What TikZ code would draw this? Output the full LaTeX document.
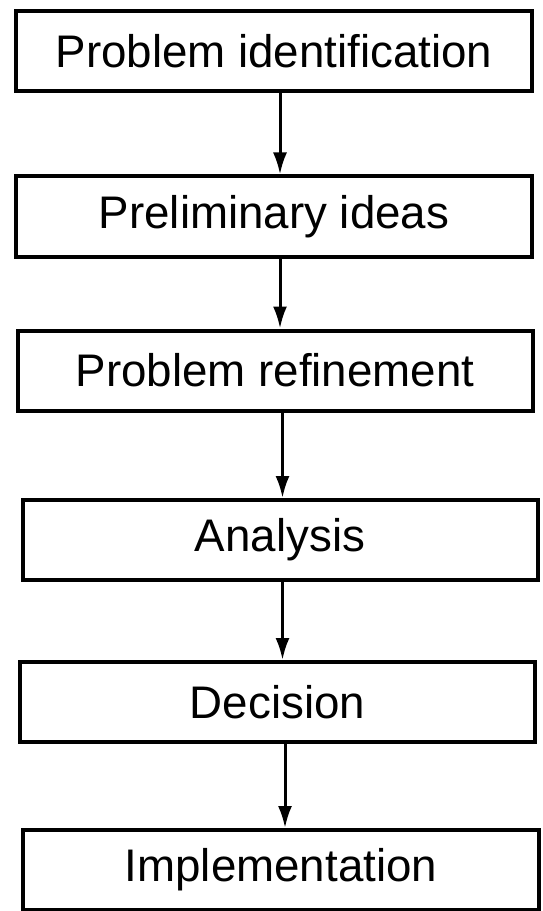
\documentclass[tikz,border=0pt]{standalone}
\usepackage{fontspec}
\setmainfont{Liberation Sans}
\usepackage{tikz}
\usetikzlibrary{arrows.meta}

\begin{document}
\begin{tikzpicture}[>={Latex[length=4.4mm,width=2.8mm]}]
	\useasboundingbox (0,0) rectangle (10.84,-18.22);
	\fontsize{26}{30}\selectfont
	\tikzset{stage/.style={draw, line width=0.8mm, minimum width=10.3cm, minimum height=1.6cm, inner sep=0pt}}
	\node[stage] (ident) at (5.48,-1.02) {Problem identification};
	\node[stage] (ideas) at (5.48,-4.33) {Preliminary ideas};
	\node[stage] (refine) at (5.5,-7.41) {Problem refinement};
	\node[stage] (anal) at (5.6,-10.8) {Analysis};
	\node[stage] (dec) at (5.55,-14.04) {Decision};
	\node[stage] (impl) at (5.62,-17.4) {Implementation};
	\draw[->, line width=0.6mm] (ident.south -| 5.6,0) -- (ideas.north -| 5.6,0);
	\draw[->, line width=0.6mm] (ideas.south -| 5.6,0) -- (refine.north -| 5.6,0);
	\draw[->, line width=0.6mm] (refine.south -| 5.65,0) -- (anal.north -| 5.65,0);
	\draw[->, line width=0.6mm] (anal.south -| 5.65,0) -- (dec.north -| 5.65,0);
	\draw[->, line width=0.6mm] (dec.south -| 5.7,0) -- (impl.north -| 5.7,0);
\end{tikzpicture}
\end{document}
